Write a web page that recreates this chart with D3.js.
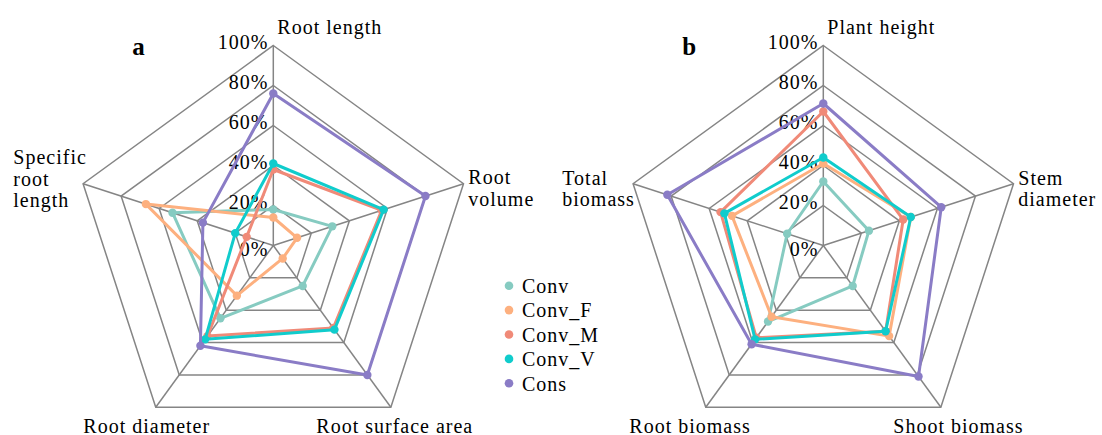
<!DOCTYPE html>
<html lang="en">
<head>
<meta charset="utf-8" />
<title>Radar charts</title>
<script src="https://d3js.org/d3.v7.min.js"></script>
<style>
  html, body { margin:0; padding:0; background:#fff; overflow:hidden; }
  svg { display:block; }
  text { font-family: "Liberation Serif", "Times New Roman", serif; fill:#000; }
</style>
</head>
<body>
<svg id="svg" width="1102" height="435"></svg>
<script>
// ---- data ----
const series = ["Conv", "Conv_F", "Conv_M", "Conv_V", "Cons"];
const colors = ["#86cbc1", "#fdb07f", "#f08a78", "#10cccc", "#8a7cc6"];
const ticks = [0, 20, 40, 60, 80, 100];

const axesA = ["Root length", "Root volume", "Root surface area", "Root diameter", "Specific root length"];
const convA  = [18, 31, 25, 45, 53];
const convFA = [14, 12.5, 8, 31, 67];
const convMA = [38, 57, 51, 56, 14];
const convVA = [41, 58, 52, 58, 20];
const consA  = [76, 80, 80, 62, 37];

const axesB = ["Plant height", "Stem diameter", "Shoot biomass", "Root biomass", "Total biomass"];
const convB  = [32, 24, 25, 47, 19];
const convFB = [41, 46, 56, 44, 48];
const convMB = [67, 42, 53, 57, 54];
const convVB = [44, 46, 53, 58, 52];
const consB  = [71, 62, 81, 61, 82];

const svg = d3.select("#svg");
const R = 200;
const rscale = d3.scaleLinear().domain([0, 100]).range([0, R]);
const ascale = d3.scaleLinear().domain([0, 5]).range([0, 2 * Math.PI]);

const radar = d3.lineRadial()
  .curve(d3.curveLinearClosed)
  .angle((d, i) => ascale(i))
  .radius(d => rscale(d));

function pt(i, v) {
  let a = ascale(i);
  return [Math.sin(a) * rscale(v), -Math.cos(a) * rscale(v)];
}

// label placement: x offset from centre, baselines of each line
const labelPos = [
  { dx: 4,    ys: [-212] },
  { dx: 195,  ys: [-62, -40] },
  { dx: 43,   ys: [187] },
  { dx: -190, ys: [187] },
  { dx: -260, ys: [-82, -60, -39] }
];

function drawRadar(cx, cy, letter, axes, lines, labels) {
  let g = svg.append("g").attr("transform", `translate(${cx},${cy})`);

  // rings
  g.selectAll(".ring")
    .data(ticks.slice(1))
    .join("path")
    .attr("class", "ring")
    .attr("d", v => radar(axes.map(() => v)))
    .attr("fill", "none")
    .attr("stroke", "#858585")
    .attr("stroke-width", 1.5);

  // spokes
  g.selectAll(".spoke")
    .data(axes)
    .join("line")
    .attr("class", "spoke")
    .attr("x1", 0).attr("y1", 0)
    .attr("x2", (d, i) => pt(i, 100)[0])
    .attr("y2", (d, i) => pt(i, 100)[1])
    .attr("stroke", "#858585")
    .attr("stroke-width", 1.5);

  // tick labels
  g.selectAll(".tick")
    .data(ticks)
    .join("text")
    .attr("class", "tick")
    .attr("x", -5)
    .attr("y", v => -rscale(v) + (v === 0 ? 10 : 3))
    .attr("text-anchor", "end")
    .attr("font-size", 20)
    .attr("letter-spacing", 1)
    .text(v => v + "%");

  // series
  lines.forEach((vals, k) => {
    g.append("path")
      .attr("d", radar(vals))
      .attr("fill", "none")
      .attr("stroke", colors[k])
      .attr("stroke-width", 3)
      .attr("stroke-linejoin", "round");
    g.selectAll(".dot" + k)
      .data(vals)
      .join("circle")
      .attr("cx", (d, i) => pt(i, d)[0])
      .attr("cy", (d, i) => pt(i, d)[1])
      .attr("r", 4.2)
      .attr("fill", colors[k]);
  });

  // axis labels
  axes.forEach((name, i) => {
    let lp = labels[i];
    let parts = name.split(" ");
    let words = lp.ys.length === 1 ? [name] :
      (lp.ys.length === 2 ? [parts[0], parts.slice(1).join(" ")] : parts);
    let t = g.append("text")
      .attr("font-size", 20)
      .attr("letter-spacing", 1);
    words.forEach((w, j) => {
      t.append("tspan").attr("x", lp.dx).attr("y", lp.ys[j]).text(w);
    });
  });

  // panel letter
  svg.append("text")
    .attr("x", cx - 141)
    .attr("y", cy - 191)
    .attr("font-size", 25)
    .attr("font-weight", "bold")
    .text(letter);
}

drawRadar(273.3, 245.5, "a", axesA, [convA, convFA, convMA, convVA, consA], labelPos);

const labelPosB = [
  { dx: 4,    ys: [-212] },
  { dx: 195,  ys: [-61, -40] },
  { dx: 70,   ys: [187] },
  { dx: -194, ys: [187] },
  { dx: -261, ys: [-61, -40] }
];
drawRadar(823.3, 245.5, "b", axesB, [convB, convFB, convMB, convVB, consB], labelPosB);

// legend
let legend = svg.append("g").attr("transform", "translate(509,285.7)");
series.forEach((s, k) => {
  let row = legend.append("g").attr("transform", `translate(0,${k * 24.4})`);
  row.append("circle").attr("r", 4.3).attr("fill", colors[k]);
  row.append("text")
    .attr("x", 13)
    .attr("dy", "0.36em")
    .attr("font-size", 20)
    .attr("letter-spacing", 1)
    .text(s);
});
</script>
</body>
</html>
